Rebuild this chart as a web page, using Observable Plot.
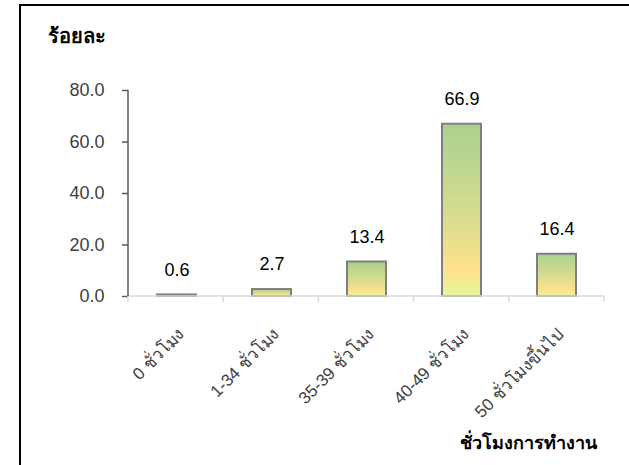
<!DOCTYPE html>
<html>
<head>
<meta charset="utf-8">
<script src="https://cdn.jsdelivr.net/npm/d3@7"></script>
<script src="https://cdn.jsdelivr.net/npm/@observablehq/plot@0.6"></script>
<style>
  html, body { margin: 0; padding: 0; background: #fff; overflow: hidden; }
  #wrap { position: relative; width: 629px; height: 465px; overflow: hidden; font-family: Tahoma, "Liberation Sans", "Noto Sans", sans-serif; }
  #border { position: absolute; left: 19px; top: 4px; width: 700px; height: 600px; border: 2px solid #000; box-sizing: border-box; }
  #chart { position: absolute; left: 0; top: 0; }
  #ylabel { position: absolute; left: 48px; top: 24px; font-size: 20px; font-weight: bold; color: #000; line-height: 1.2; }
  #xlabel { position: absolute; left: 460px; top: 433px; font-size: 18px; font-weight: bold; color: #000; line-height: 1.2; }
</style>
</head>
<body>
<div id="wrap">
  <div id="border"></div>
  <div id="chart"></div>
  <div id="ylabel">ร้อยละ</div>
  <div id="xlabel">ชั่วโมงการทำงาน</div>
</div>
<script>
const categories = ["0 ชั่วโมง", "1-34 ชั่วโมง", "35-39 ชั่วโมง", "40-49 ชั่วโมง", "50 ชั่วโมงขึ้นไป"];
const values = [0.6, 2.7, 13.4, 66.9, 16.4];
const yTicks = [0, 20, 40, 60, 80];

const data = categories.map((c, i) => ({category: c, value: values[i]}));
const font = 'Tahoma, "Liberation Sans", "Noto Sans", sans-serif';

const plot = Plot.plot({
  width: 629,
  height: 465,
  marginLeft: 128,
  marginRight: 25,
  marginTop: 90,
  marginBottom: 169,
  style: {fontFamily: font, background: "transparent", overflow: "visible"},
  x: {domain: categories, paddingInner: 0.59, paddingOuter: 0.295, axis: null},
  y: {domain: [0, 80], axis: null},
  marks: [
    Plot.axisY({ticks: yTicks, tickFormat: d => d.toFixed(1), label: null, tickSize: 6, tickPadding: 18, fontSize: 18, color: "#404040", stroke: "#595959", strokeWidth: 1.5}),
    Plot.barY(data, {x: "category", y: "value", fill: "url(#barGrad)", stroke: "#7f7f7f", strokeWidth: 2}),
    Plot.text(data, {x: "category", y: "value", text: d => d.value.toFixed(1), dy: -25, fontSize: 18, fill: "#000"}),
    Plot.text(categories, {x: d => d, text: d => d, frameAnchor: "bottom", rotate: -45, textAnchor: "end", dx: 8, dy: 39, fontSize: 17, fill: "#404040"})
  ]
});

const svg = d3.select(plot);
svg.insert("defs", ":first-child").html(`
  <linearGradient id="barGrad" x1="0" y1="0" x2="0" y2="1">
    <stop offset="0" stop-color="#a9d18e"/>
    <stop offset="0.5" stop-color="#d4dc8e"/>
    <stop offset="0.85" stop-color="#ffe28c"/>
    <stop offset="1" stop-color="#e4f69a"/>
  </linearGradient>`);

// axis lines drawn from the library's scales
const xs = plot.scale("x");
const ys = plot.scale("y");
const yScale = d3.scaleLinear(ys.domain, ys.range);
const x0 = xs.range[0], x1 = xs.range[1];
const step = (x1 - x0) / categories.length;
const yBase = yScale(0);
const g = svg.append("g");
g.append("line").attr("x1", x0).attr("x2", x1).attr("y1", yBase).attr("y2", yBase).attr("stroke", "#d9d9d9").attr("stroke-width", 1.5);
d3.range(categories.length + 1).forEach(i => {
  const xx = x0 + i * step;
  g.append("line").attr("x1", xx).attr("x2", xx).attr("y1", yBase).attr("y2", yBase + 6).attr("stroke", "#d9d9d9").attr("stroke-width", 1.5);
});
g.append("line").attr("x1", x0).attr("x2", x0).attr("y1", yScale(80)).attr("y2", yBase).attr("stroke", "#595959").attr("stroke-width", 1.5);

document.getElementById("chart").appendChild(plot);
</script>
</body>
</html>
